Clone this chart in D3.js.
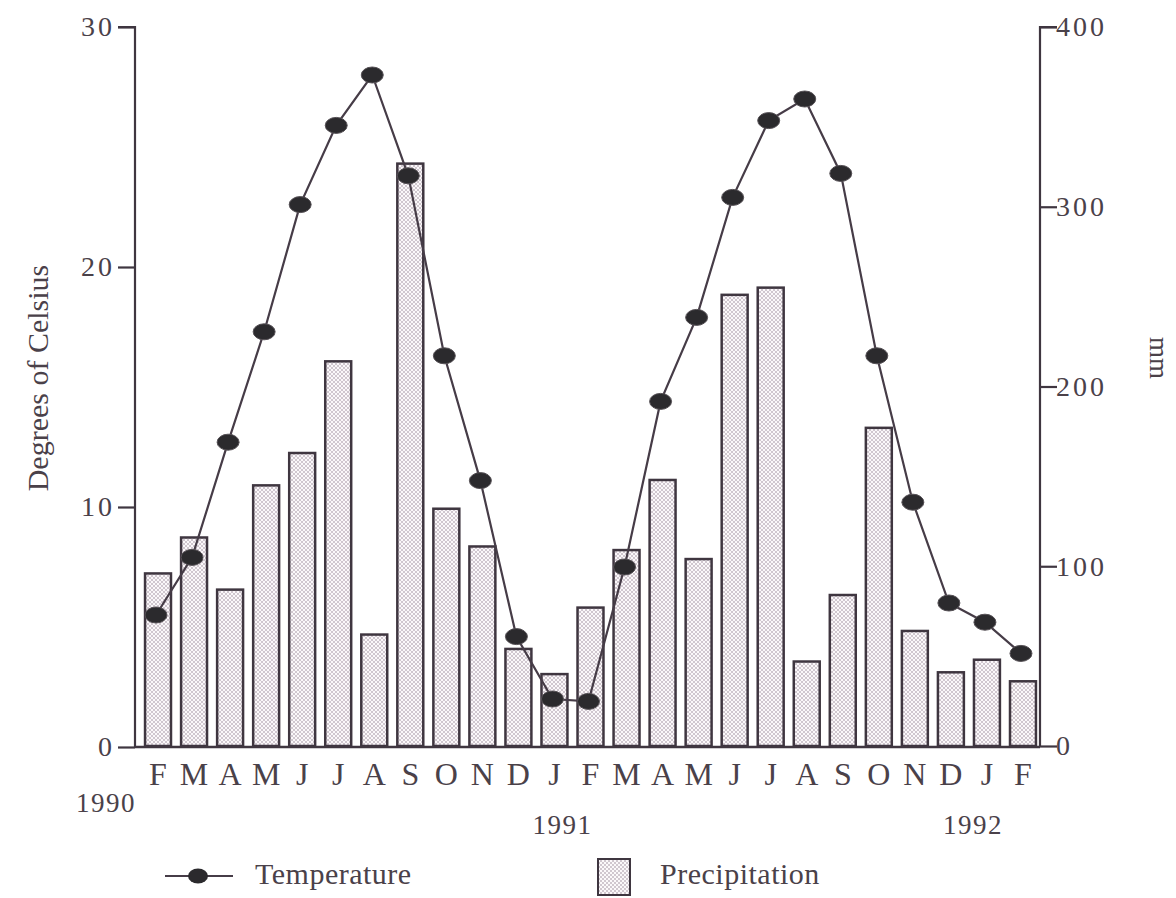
<!DOCTYPE html>
<html>
<head>
<meta charset="utf-8">
<script src="https://cdn.jsdelivr.net/npm/d3@7"></script>
<style>
    body { margin: 0; background: #ffffff; }
    text { font-family: 'Liberation Serif', 'DejaVu Serif', serif; fill: #4a4149; }
</style>
</head>
<body>
<div id="chart"></div>
<script>

// monthly temperature and precipitation, Feb 1990 - Feb 1992

let months = ['F', 'M', 'A', 'M', 'J', 'J', 'A', 'S', 'O', 'N', 'D', 'J',
              'F', 'M', 'A', 'M', 'J', 'J', 'A', 'S', 'O', 'N', 'D', 'J', 'F'];

// degrees celsius
let temperature = [5.5, 7.9, 12.7, 17.3, 22.6, 25.9, 28.0, 23.8, 16.3, 11.1, 4.6, 2.0,
                   1.9, 7.5, 14.4, 17.9, 22.9, 26.1, 27.0, 23.9, 16.3, 10.2, 6.0, 5.2, 3.9];

// mm
let precipitation = [96, 116, 87, 145, 163, 214, 62, 324, 132, 111, 54, 40,
                     77, 109, 148, 104, 251, 255, 47, 84, 177, 64, 41, 48, 36];

let tempTicks = [0, 10, 20, 30];
let precipTicks = [0, 100, 200, 300, 400];

// year labels: index of the month they sit under
let years = [
    {label: '1990', index: 0},
    {label: '1991', index: 11},
    {label: '1992', index: 22}
];

class ClimateChart {

    constructor(parentElement) {
        this.parentElement = parentElement;
        this.data = months.map((m, i) => ({
            i: i,
            month: m,
            temp: temperature[i],
            precip: precipitation[i]
        }));
        this.initVis();
    }

    initVis() {
        let vis = this;

        vis.ink = '#3f3640';
        vis.margin = {top: 27, right: 136, bottom: 151, left: 135};
        vis.width = 1176 - vis.margin.left - vis.margin.right;
        vis.height = 898 - vis.margin.top - vis.margin.bottom;

        vis.root = d3.select('#' + vis.parentElement).append('svg')
            .attr('width', 1176)
            .attr('height', 898);

        // dotted fill for bars
        let pat = vis.root.append('defs').append('pattern')
            .attr('id', 'dots')
            .attr('patternUnits', 'userSpaceOnUse')
            .attr('width', 4)
            .attr('height', 4);
        pat.append('rect')
            .attr('width', 4).attr('height', 4)
            .attr('fill', '#fbf8fa');
        pat.append('circle')
            .attr('cx', 1).attr('cy', 1).attr('r', 0.8)
            .attr('fill', '#9a8a98');
        pat.append('circle')
            .attr('cx', 3).attr('cy', 3).attr('r', 0.8)
            .attr('fill', '#9a8a98');

        vis.svg = vis.root.append('g')
            .attr('transform', `translate(${vis.margin.left}, ${vis.margin.top})`);

        vis.xScale = d3.scaleBand()
            .domain(vis.data.map(d => d.i))
            .range([5, vis.width + 1])
            .paddingInner(0.28)
            .paddingOuter(0.14);

        vis.yTemp = d3.scaleLinear()
            .domain([0, 30])
            .range([vis.height, 0]);

        vis.yPrecip = d3.scaleLinear()
            .domain([0, 400])
            .range([vis.height - 1, 0]);

        vis.updateVis();
    }

    updateVis() {
        let vis = this;

        // bars
        vis.svg.selectAll('.bar')
            .data(vis.data)
            .enter()
            .append('rect')
            .attr('class', 'bar')
            .attr('x', d => vis.xScale(d.i))
            .attr('width', vis.xScale.bandwidth())
            .attr('y', d => vis.yPrecip(d.precip))
            .attr('height', d => vis.yPrecip(0) - vis.yPrecip(d.precip))
            .attr('fill', 'url(#dots)')
            .attr('stroke', vis.ink)
            .attr('stroke-width', 2.5);

        // axes
        vis.svg.append('g')
            .attr('class', 'y-axis')
            .call(d3.axisLeft(vis.yTemp).tickValues(tempTicks).tickSize(17).tickPadding(3))
            .call(g => g.select('.domain').attr('d', `M0,${vis.height}V0H-17`));

        vis.svg.append('g')
            .attr('class', 'y-axis-right')
            .attr('transform', `translate(${vis.width}, 0)`)
            .call(d3.axisRight(vis.yPrecip).tickValues(precipTicks).tickSize(17).tickPadding(-1))
            .call(g => g.select('.domain').attr('d', `M0,${vis.height}V0H17`));

        // baseline
        vis.svg.append('line')
            .attr('x1', 0).attr('x2', vis.width)
            .attr('y1', vis.height).attr('y2', vis.height)
            .attr('stroke', vis.ink)
            .attr('stroke-width', 2.5);

        vis.svg.selectAll('.y-axis path, .y-axis line, .y-axis-right path, .y-axis-right line')
            .attr('stroke', vis.ink)
            .attr('stroke-width', 2.2);

        vis.svg.selectAll('.y-axis text, .y-axis-right text')
            .style('font-family', "'Liberation Serif', serif")
            .style('font-size', '28px')
            .style('fill', '#4a4149')
            .style('letter-spacing', '3px');

        // temperature line
        let cx = d => vis.xScale(d.i) + vis.xScale.bandwidth() / 2 - 2;

        vis.svg.append('path')
            .datum(vis.data)
            .attr('fill', 'none')
            .attr('stroke', '#463c47')
            .attr('stroke-width', 2.2)
            .attr('d', d3.line()
                .x(cx)
                .y(d => vis.yTemp(d.temp)));

        vis.svg.selectAll('.pt')
            .data(vis.data)
            .enter()
            .append('ellipse')
            .attr('class', 'pt')
            .attr('cx', cx)
            .attr('cy', d => vis.yTemp(d.temp))
            .attr('rx', 11)
            .attr('ry', 8)
            .attr('fill', '#2b2a2d')
            .attr('stroke', '#555055')
            .attr('stroke-width', 1);

        // month labels
        vis.svg.selectAll('.month')
            .data(vis.data)
            .enter()
            .append('text')
            .attr('class', 'month')
            .attr('x', d => vis.xScale(d.i) + vis.xScale.bandwidth() / 2)
            .attr('y', vis.height + 38)
            .attr('text-anchor', 'middle')
            .style('font-size', '32px')
            .text(d => d.month);

        // year labels, first one sits on its own row
        let yearShift = {'1990': -52, '1991': 8, '1992': 22};

        vis.svg.selectAll('.year')
            .data(years)
            .enter()
            .append('text')
            .attr('class', 'year')
            .attr('x', d => vis.xScale(d.index) + vis.xScale.bandwidth() / 2 + yearShift[d.label])
            .attr('y', d => d.index === 0 ? vis.height + 65 : vis.height + 87)
            .attr('text-anchor', 'middle')
            .style('font-size', '27px')
            .style('letter-spacing', '1.5px')
            .text(d => d.label);

        // axis titles
        vis.svg.append('text')
            .attr('transform', `translate(-87, ${vis.height / 2 - 9}) rotate(-90)`)
            .attr('text-anchor', 'middle')
            .style('font-size', '30px')
            .text('Degrees of Celsius');

        vis.svg.append('text')
            .attr('transform', `translate(${vis.width + 110}, ${vis.height / 2 - 29}) rotate(90)`)
            .attr('text-anchor', 'middle')
            .style('font-size', '27px')
            .text('mm');

        // legend
        let legend = vis.root.append('g').attr('class', 'legend');

        legend.append('line')
            .attr('x1', 165).attr('x2', 233)
            .attr('y1', 876).attr('y2', 876)
            .attr('stroke', '#463c47')
            .attr('stroke-width', 2.2);
        legend.append('ellipse')
            .attr('cx', 198).attr('cy', 876)
            .attr('rx', 10).attr('ry', 7.5)
            .attr('fill', '#2b2a2d');
        legend.append('text')
            .attr('x', 255).attr('y', 884)
            .style('font-size', '30px')
            .style('letter-spacing', '0.5px')
            .text('Temperature');

        legend.append('rect')
            .attr('x', 598).attr('y', 859)
            .attr('width', 32).attr('height', 36)
            .attr('fill', 'url(#dots)')
            .attr('stroke', vis.ink)
            .attr('stroke-width', 2);
        legend.append('text')
            .attr('x', 660).attr('y', 884)
            .style('font-size', '30px')
            .style('letter-spacing', '0.5px')
            .text('Precipitation');
    }
}

let chart = new ClimateChart('chart');

</script>
</body>
</html>
